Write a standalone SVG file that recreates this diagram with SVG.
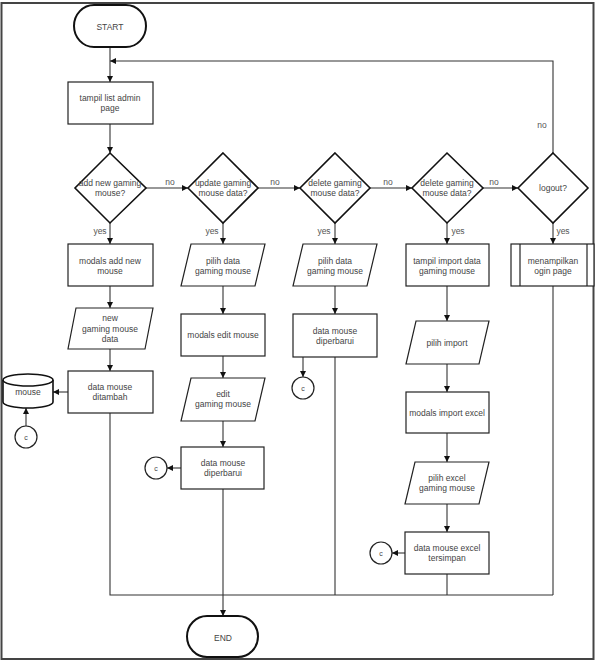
<svg xmlns="http://www.w3.org/2000/svg" width="596" height="662" viewBox="0 0 596 662">
  <defs>
    <marker id="arrow" markerUnits="userSpaceOnUse" markerWidth="7" markerHeight="7" refX="6" refY="3" orient="auto">
      <path d="M0,0 L6,3 L0,6 Z" fill="#111"/>
    </marker>
    <style>
      .shape { fill: #fff; stroke: #222; stroke-width: 1.2; }
      .term { fill: #fff; stroke: #111; stroke-width: 2; }
      .dia { fill: #fff; stroke: #111; stroke-width: 1.6; }
      .line { fill: none; stroke: #333; stroke-width: 1.1; }
      .arr { fill: none; stroke: #333; stroke-width: 1.1; marker-end: url(#arrow); }
      text { font-family: "Liberation Sans", Arial, sans-serif; font-size: 8.5px; fill: #444; text-anchor: middle; }
      .lbl { font-size: 8.5px; fill: #555; }
    </style>
  </defs>

  <rect x="0" y="0" width="596" height="662" fill="#fff"/>
  <!-- outer frame -->
  <rect x="1.5" y="3" width="592" height="656" fill="none" stroke="#444" stroke-width="2"/>

  <!-- connectors -->
  <g id="connectors">
    <path class="arr" d="M110,47 V82"/>
    <path class="arr" d="M553,153 V61 H110"/>
    <path class="arr" d="M110,124 V153"/>
    <path class="arr" d="M146,188 H188"/>
    <path class="arr" d="M258,188 H300"/>
    <path class="arr" d="M370,188 H412"/>
    <path class="arr" d="M483,188 H518"/>
    <path class="arr" d="M110,223 V244"/>
    <path class="arr" d="M223,223 V244"/>
    <path class="arr" d="M335,223 V244"/>
    <path class="arr" d="M447,223 V244"/>
    <path class="arr" d="M553,223 V244"/>
    <!-- column 1 -->
    <path class="arr" d="M110,286 V308"/>
    <path class="arr" d="M110,349 V371"/>
    <path class="arr" d="M68,392 H53"/>
    <path class="arr" d="M26,426 V408"/>
    <path class="line" d="M110,413 V595 H553"/>
    <!-- column 2 -->
    <path class="arr" d="M223,286 V314"/>
    <path class="arr" d="M223,356 V378"/>
    <path class="arr" d="M223,421 V447"/>
    <path class="arr" d="M181,468 H167"/>
    <path class="arr" d="M223,489 V616"/>
    <!-- column 3 -->
    <path class="arr" d="M335,286 V314"/>
    <path class="arr" d="M303,357 V377"/>
    <path class="line" d="M335,357 V595"/>
    <!-- column 4 -->
    <path class="arr" d="M447,286 V321"/>
    <path class="arr" d="M447,364 V392"/>
    <path class="arr" d="M447,433 V462"/>
    <path class="arr" d="M447,504 V532"/>
    <path class="arr" d="M405,553 H392"/>
    <path class="line" d="M447,574 V595"/>
    <!-- column 5 -->
    <path class="line" d="M553,286 V595"/>

    <text class="lbl" x="542" y="128">no</text>
    <text class="lbl" x="170" y="185">no</text>
    <text class="lbl" x="275" y="185">no</text>
    <text class="lbl" x="388" y="185">no</text>
    <text class="lbl" x="494" y="185">no</text>
    <text class="lbl" x="100" y="234">yes</text>
    <text class="lbl" x="212" y="234">yes</text>
    <text class="lbl" x="324" y="234">yes</text>
    <text class="lbl" x="458" y="234">yes</text>
    <text class="lbl" x="563" y="234">yes</text>
  </g>

  <g id="start">
    <rect class="term" x="74" y="5" width="72" height="42" rx="20" ry="21"/>
    <text x="110" y="30">START</text>
  </g>

  <g id="tampil-list">
    <rect class="shape" x="68" y="82" width="85" height="42"/>
    <text x="110" y="101">tampil list admin</text>
    <text x="110" y="111">page</text>
  </g>

  <g id="dec-add">
    <polygon class="dia" points="110,153 146,188 110,223 75,188"/>
    <text x="110" y="186">add new gaming</text>
    <text x="110" y="196">mouse?</text>
  </g>
  <g id="dec-update">
    <polygon class="dia" points="223,153 258,188 223,223 188,188"/>
    <text x="223" y="186">update gaming</text>
    <text x="223" y="196">mouse data?</text>
  </g>
  <g id="dec-delete">
    <polygon class="dia" points="335,153 370,188 335,223 300,188"/>
    <text x="335" y="186">delete gaming</text>
    <text x="335" y="196">mouse data?</text>
  </g>
  <g id="dec-import">
    <polygon class="dia" points="447,153 483,188 447,223 412,188"/>
    <text x="447" y="186">delete gaming</text>
    <text x="447" y="196">mouse data?</text>
  </g>
  <g id="dec-logout">
    <polygon class="dia" points="553,153 588,188 553,223 518,188"/>
    <text x="553" y="191">logout?</text>
  </g>

  <!-- column 1 -->
  <g id="modals-add">
    <rect class="shape" x="68" y="244" width="85" height="42"/>
    <text x="110" y="264">modals add new</text>
    <text x="110" y="274">mouse</text>
  </g>
  <g id="input-new">
    <polygon class="shape" points="76,308 153,308 145,349 68,349"/>
    <text x="110" y="321">new</text>
    <text x="110" y="332">gaming mouse</text>
    <text x="110" y="342">data</text>
  </g>
  <g id="data-ditambah">
    <rect class="shape" x="68" y="371" width="85" height="42"/>
    <text x="110" y="390">data mouse</text>
    <text x="110" y="400">ditambah</text>
  </g>
  <g id="db-mouse">
    <path d="M3,380 A25,6 0 0 1 53,380 V402 A25,6 0 0 1 3,402 Z" fill="#fff" stroke="#111" stroke-width="1.6"/>
    <path d="M3,380 A25,6 0 0 0 53,380" fill="none" stroke="#111" stroke-width="1.6"/>
    <text x="28" y="395">mouse</text>
  </g>
  <g id="conn-c1">
    <circle class="shape" cx="26" cy="437" r="11"/>
    <text x="26" y="440" style="font-size:7px">c</text>
  </g>

  <!-- column 2 -->
  <g id="pilih-data-edit">
    <polygon class="shape" points="191,244 265,244 255,286 181,286"/>
    <text x="223" y="264">pilih data</text>
    <text x="223" y="274">gaming mouse</text>
  </g>
  <g id="modals-edit">
    <rect class="shape" x="181" y="314" width="84" height="42"/>
    <text x="223" y="338">modals edit mouse</text>
  </g>
  <g id="input-edit">
    <polygon class="shape" points="191,378 265,378 255,421 181,421"/>
    <text x="223" y="397">edit</text>
    <text x="223" y="407">gaming mouse</text>
  </g>
  <g id="data-diperbarui-edit">
    <rect class="shape" x="181" y="447" width="83" height="42"/>
    <text x="223" y="466">data mouse</text>
    <text x="223" y="476">diperbarui</text>
  </g>
  <g id="conn-c2">
    <circle class="shape" cx="156" cy="468" r="11"/>
    <text x="156" y="471" style="font-size:7px">c</text>
  </g>

  <!-- column 3 -->
  <g id="pilih-data-delete">
    <polygon class="shape" points="303,244 377,244 367,286 293,286"/>
    <text x="335" y="264">pilih data</text>
    <text x="335" y="274">gaming mouse</text>
  </g>
  <g id="data-diperbarui-delete">
    <rect class="shape" x="293" y="314" width="84" height="43"/>
    <text x="335" y="334">data mouse</text>
    <text x="335" y="344">diperbarui</text>
  </g>
  <g id="conn-c3">
    <circle class="shape" cx="303" cy="388" r="11"/>
    <text x="303" y="391" style="font-size:7px">c</text>
  </g>

  <!-- column 4 -->
  <g id="tampil-import">
    <rect class="shape" x="406" y="244" width="83" height="42"/>
    <text x="447" y="264">tampil import data</text>
    <text x="447" y="274">gaming mouse</text>
  </g>
  <g id="pilih-import">
    <polygon class="shape" points="416,321 489,321 479,364 406,364"/>
    <text x="447" y="346">pilih import</text>
  </g>
  <g id="modals-import">
    <rect class="shape" x="406" y="392" width="83" height="41"/>
    <text x="447" y="416">modals import excel</text>
  </g>
  <g id="pilih-excel">
    <polygon class="shape" points="415,462 489,462 479,504 405,504"/>
    <text x="447" y="481">pilih excel</text>
    <text x="447" y="491">gaming mouse</text>
  </g>
  <g id="data-tersimpan">
    <rect class="shape" x="405" y="532" width="84" height="42"/>
    <text x="447" y="551">data mouse excel</text>
    <text x="447" y="561">tersimpan</text>
  </g>
  <g id="conn-c4">
    <circle class="shape" cx="381" cy="553" r="11"/>
    <text x="381" y="556" style="font-size:7px">c</text>
  </g>

  <!-- column 5 -->
  <g id="login-page">
    <rect class="shape" x="511" y="244" width="83" height="42"/>
    <line x1="520" y1="244" x2="520" y2="286" stroke="#222" stroke-width="1.2"/>
    <line x1="587" y1="244" x2="587" y2="286" stroke="#222" stroke-width="1.2"/>
    <text x="553" y="264">menampilkan</text>
    <text x="553" y="274">ogin page</text>
  </g>

  <g id="end">
    <rect class="term" x="187" y="616" width="71" height="41" rx="20" ry="20.5"/>
    <text x="223" y="641">END</text>
  </g>
</svg>
